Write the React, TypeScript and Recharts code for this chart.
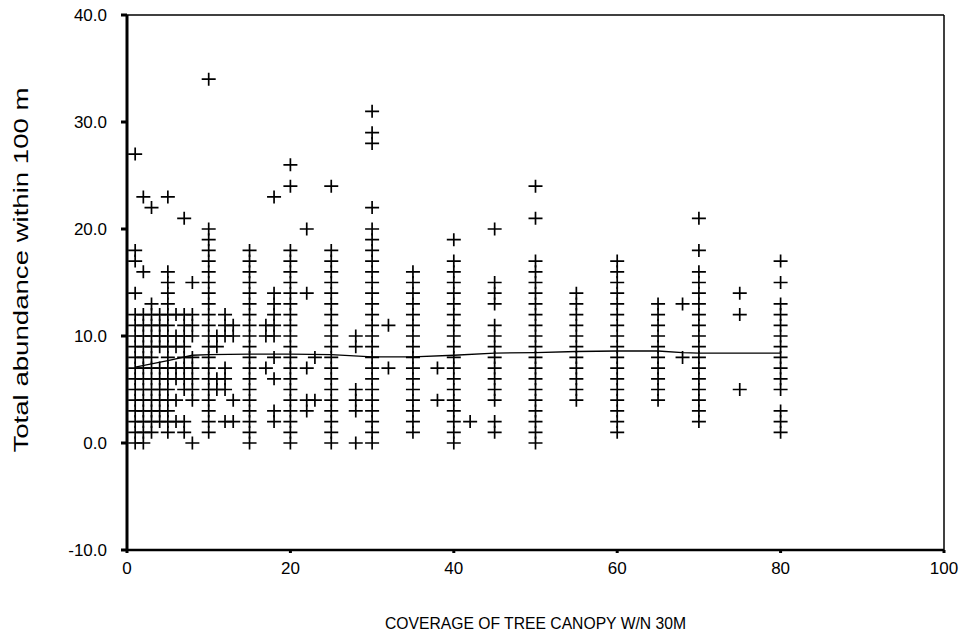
import { ScatterChart, Scatter, XAxis, YAxis, ReferenceLine } from 'recharts';

// canopy cover (%) for each column of cases
const coverage = [1, 2, 3, 4, 5, 6, 7, 8, 10, 11, 12, 13, 15, 17, 18, 20, 22, 23, 25, 28, 30, 32, 35, 38, 40, 42, 45, 50, 55, 60, 65, 68, 70, 75, 80];

// total abundance values observed at each canopy cover
const abundance: number[][] = [
  [0, 1, 2, 3, 4, 5, 6, 7, 8, 9, 10, 11, 12, 14, 17, 18, 27],
  [0, 1, 2, 3, 4, 5, 6, 7, 8, 9, 10, 11, 12, 16, 23],
  [1, 2, 3, 4, 5, 6, 7, 8, 9, 10, 11, 12, 13, 22],
  [2, 3, 4, 5, 6, 7, 9, 10, 11, 12],
  [1, 2, 3, 4, 5, 6, 7, 8, 9, 10, 11, 12, 13, 14, 15, 16, 23],
  [2, 4, 6, 7, 9, 10, 12],
  [1, 2, 5, 6, 7, 8, 9, 10, 11, 12, 21],
  [0, 4, 5, 6, 7, 8, 10, 11, 12, 15],
  [1, 2, 3, 4, 5, 6, 7, 8, 9, 10, 11, 12, 13, 14, 15, 16, 17, 18, 19, 20, 34],
  [5, 6, 9, 10],
  [2, 5, 6, 7, 10, 11, 12],
  [2, 4, 10, 11],
  [0, 1, 2, 3, 4, 5, 6, 7, 8, 9, 10, 11, 12, 13, 14, 15, 16, 17, 18],
  [7, 10, 11],
  [2, 3, 6, 8, 10, 11, 12, 13, 14, 23],
  [0, 1, 2, 3, 4, 5, 6, 7, 8, 9, 10, 11, 12, 13, 14, 15, 16, 17, 18, 24, 26],
  [3, 4, 7, 14, 20],
  [4, 8],
  [0, 1, 2, 3, 4, 5, 6, 7, 8, 9, 10, 11, 12, 13, 14, 15, 16, 17, 18, 24],
  [0, 3, 4, 5, 9, 10],
  [0, 1, 2, 3, 4, 5, 6, 7, 8, 9, 10, 11, 12, 13, 14, 15, 16, 17, 18, 19, 20, 22, 28, 29, 31],
  [7, 11],
  [1, 2, 3, 4, 5, 6, 7, 8, 9, 10, 11, 12, 13, 14, 15, 16],
  [4, 7],
  [0, 1, 2, 3, 4, 5, 6, 7, 8, 9, 10, 11, 12, 13, 14, 15, 16, 17, 19],
  [2],
  [1, 2, 4, 5, 6, 7, 8, 9, 10, 11, 13, 14, 15, 20],
  [0, 1, 2, 3, 4, 5, 6, 7, 8, 9, 10, 11, 12, 13, 14, 15, 16, 17, 21, 24],
  [4, 5, 6, 7, 8, 9, 10, 11, 12, 13, 14],
  [1, 2, 3, 4, 5, 6, 7, 8, 9, 10, 11, 12, 13, 14, 15, 16, 17],
  [4, 5, 6, 7, 8, 9, 10, 11, 12, 13],
  [8, 13],
  [2, 3, 4, 5, 6, 7, 8, 9, 10, 11, 12, 13, 14, 15, 16, 18, 21],
  [5, 12, 14],
  [1, 2, 3, 5, 6, 7, 8, 9, 10, 11, 12, 13, 15, 17],
];

// smoothed fit line
const fitX = [1, 3, 5, 8, 10, 15, 20, 25, 30, 35, 40, 45, 50, 55, 60, 65, 68, 70, 75, 80];
const fitY = [7.1, 7.4, 7.7, 8.2, 8.25, 8.3, 8.3, 8.25, 8.05, 8.05, 8.2, 8.4, 8.45, 8.55, 8.6, 8.6, 8.45, 8.4, 8.4, 8.4];

const xTicks = [0, 20, 40, 60, 80, 100];
const yTicks = [-10, 0, 10, 20, 30, 40];

const points = coverage.flatMap((x, i) => abundance[i].map((y) => ({ x, y })));
const fit = fitX.map((x, i) => ({ x, y: fitY[i] }));

const FONT = '"Liberation Sans", Arial, sans-serif';

function Plus(props: any) {
  const { cx, cy } = props;
  if (cx == null || cy == null) return <g />;
  return (
    <path
      d={`M${cx - 7},${cy}H${cx + 7}M${cx},${cy - 6.5}V${cy + 6.5}`}
      stroke="#000"
      strokeWidth={1.7}
      fill="none"
    />
  );
}

export default function App() {
  return (
    <div style={{ position: 'absolute', left: 0, top: 0, width: 960, height: 644, background: '#fff' }}>
      <ScatterChart
        width={960}
        height={644}
        margin={{ top: 15, right: 16, left: 67, bottom: 64 }}
      >
        <XAxis
          type="number"
          dataKey="x"
          domain={[0, 100]}
          ticks={xTicks}
          height={30}
          axisLine={{ stroke: '#000', strokeWidth: 2.5 }}
          tickLine={{ stroke: '#000', strokeWidth: 3 }}
          tickSize={3}
          tickMargin={9}
          tick={{ fontSize: 17, fill: '#000', fontFamily: FONT }}
        />
        <YAxis
          type="number"
          dataKey="y"
          domain={[-10, 40]}
          ticks={yTicks}
          width={60}
          axisLine={{ stroke: '#000', strokeWidth: 3 }}
          tickLine={{ stroke: '#000', strokeWidth: 3 }}
          tickSize={6}
          tickMargin={14}
          tickFormatter={(v: number) => v.toFixed(1)}
          tick={{ fontSize: 17, fill: '#000', fontFamily: FONT }}
        />
        <ReferenceLine y={40} stroke="#000" strokeWidth={1.5} />
        <ReferenceLine x={100} stroke="#000" strokeWidth={1.5} />
        <Scatter data={points} shape={<Plus />} isAnimationActive={false} />
        <Scatter
          data={fit}
          line={{ stroke: '#000', strokeWidth: 1.3 }}
          lineType="joint"
          shape={() => <g />}
          isAnimationActive={false}
        />
      </ScatterChart>
      <div
        style={{
          position: 'absolute',
          left: 127,
          width: 817,
          top: 615,
          textAlign: 'center',
          fontFamily: FONT,
          fontSize: 15.7,
          color: '#000',
          whiteSpace: 'nowrap',
        }}
      >
        COVERAGE OF TREE CANOPY W/N 30M
      </div>
      <div
        style={{
          position: 'absolute',
          left: 21,
          top: 270,
          transform: 'translate(-50%, -50%) rotate(-90deg) scaleX(1.38)',
          fontFamily: FONT,
          fontSize: 20,
          color: '#000',
          whiteSpace: 'nowrap',
        }}
      >
        Total abundance within 100 m
      </div>
    </div>
  );
}
